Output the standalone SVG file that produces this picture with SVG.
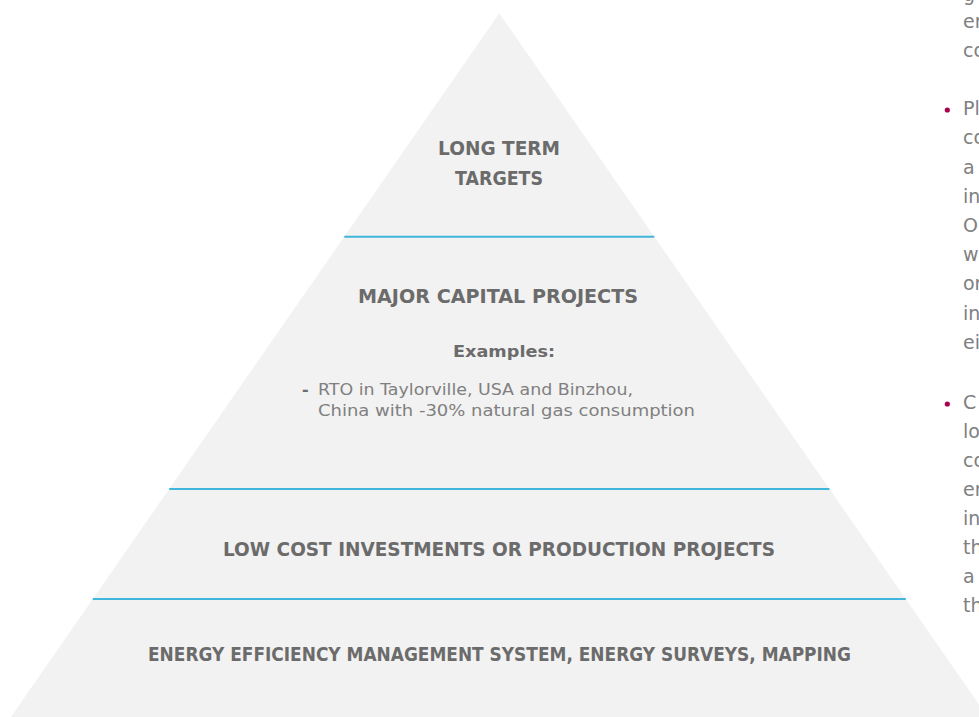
<svg xmlns="http://www.w3.org/2000/svg" width="979" height="717" viewBox="0 0 979 717">
  <style>
    .tier { fill: #f2f2f2; }
    .divider { stroke: #41b6dc; stroke-width: 2; }
    .head { font-family: "DejaVu Sans", "Liberation Sans", sans-serif; font-weight: bold; font-size: 19px; fill: #6b6b6b; }
    .sub { font-family: "DejaVu Sans", "Liberation Sans", sans-serif; font-weight: bold; font-size: 16px; fill: #6b6b6b; }
    .body { font-family: "DejaVu Sans", "Liberation Sans", sans-serif; font-size: 16px; fill: #808080; }
    .side { font-family: "DejaVu Sans", "Liberation Sans", sans-serif; font-size: 19px; fill: #808080; }
    .dot { fill: #a8004f; }
  </style>

  <rect width="979" height="717" fill="#ffffff"/>

  <!-- pyramid body -->
  <polygon class="tier" points="499.3,13.3 987.7,717 10.9,717"/>

  <!-- tier dividers -->
  <g id="dividers">
    <line class="divider" x1="344.3" y1="236.7" x2="654.3" y2="236.7"/>
    <line class="divider" x1="169.2" y1="489" x2="829.4" y2="489"/>
    <line class="divider" x1="92.8" y1="599" x2="905.8" y2="599"/>
  </g>

  <g id="tier-long-term">
    <text class="head" x="499" y="155" text-anchor="middle" textLength="122" lengthAdjust="spacingAndGlyphs">LONG TERM</text>
    <text class="head" x="499" y="185" text-anchor="middle" textLength="88" lengthAdjust="spacingAndGlyphs">TARGETS</text>
  </g>

  <g id="tier-major-capital">
    <text class="head" x="498" y="303" text-anchor="middle" textLength="280" lengthAdjust="spacingAndGlyphs">MAJOR CAPITAL PROJECTS</text>
    <text class="sub" x="504" y="357" text-anchor="middle" textLength="102" lengthAdjust="spacingAndGlyphs">Examples:</text>
    <text class="sub" x="302" y="395">-</text>
    <text class="body" x="318" y="395" textLength="315" lengthAdjust="spacingAndGlyphs">RTO in Taylorville, USA and Binzhou,</text>
    <text class="body" x="318" y="416" textLength="377" lengthAdjust="spacingAndGlyphs">China with -30% natural gas consumption</text>
  </g>

  <g id="tier-low-cost">
    <text class="head" x="499" y="556" text-anchor="middle" textLength="552" lengthAdjust="spacingAndGlyphs">LOW COST INVESTMENTS OR PRODUCTION PROJECTS</text>
  </g>

  <g id="tier-foundation">
    <text class="head" x="499.5" y="661" text-anchor="middle" textLength="703" lengthAdjust="spacingAndGlyphs">ENERGY EFFICIENCY MANAGEMENT SYSTEM, ENERGY SURVEYS, MAPPING</text>
  </g>

  <!-- side notes, running off the right edge -->
  <g id="side-notes">
    <text class="side" x="963" y="0.5">g</text>
    <text class="side" x="963" y="27.6">en</text>
    <text class="side" x="963" y="56.8">co</text>

    <circle class="dot" cx="947.3" cy="110" r="2.6"/>
    <text class="side" x="963" y="115.2">Pl</text>
    <text class="side" x="963" y="144.4">co</text>
    <text class="side" x="963" y="173.6">a</text>
    <text class="side" x="963" y="202.8">in</text>
    <text class="side" x="963" y="232">O</text>
    <text class="side" x="963" y="261.2">w</text>
    <text class="side" x="963" y="290.4">or</text>
    <text class="side" x="963" y="319.6">in</text>
    <text class="side" x="963" y="348.8">ei</text>

    <circle class="dot" cx="947.3" cy="404" r="2.6"/>
    <text class="side" x="963" y="409">C</text>
    <text class="side" x="963" y="438">lo</text>
    <text class="side" x="963" y="467">co</text>
    <text class="side" x="963" y="496">en</text>
    <text class="side" x="963" y="525">in</text>
    <text class="side" x="963" y="554">th</text>
    <text class="side" x="963" y="583">a</text>
    <text class="side" x="963" y="612">th</text>
  </g>
</svg>
